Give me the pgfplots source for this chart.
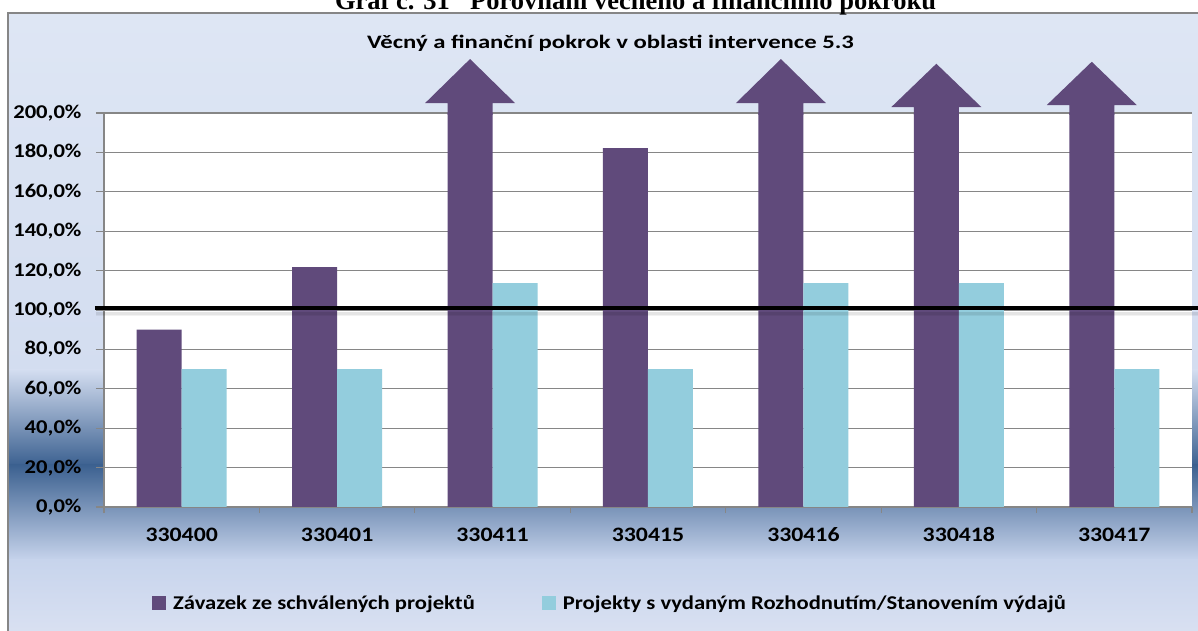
\documentclass[border=0pt]{standalone}
\usepackage{fontspec}
\setmainfont{Carlito}[FakeStretch=1.16]
\newfontfamily\titlefont{Carlito}[FakeStretch=1.3]
\newfontfamily\headfont{Liberation Serif}
\usepackage{pgfplots}
\pgfplotsset{compat=1.18}
\usetikzlibrary{backgrounds}
\definecolor{purp}{RGB}{96,74,123}
\definecolor{lblue}{RGB}{147,205,221}
\definecolor{bgtop}{RGB}{222,230,244}
\definecolor{bgmid}{RGB}{211,221,240}
\definecolor{bgdark}{RGB}{60,97,144}
\definecolor{bglow}{RGB}{199,212,236}
\definecolor{bgbot}{RGB}{218,225,242}
\definecolor{gridc}{RGB}{134,134,134}
\begin{document}
\begin{tikzpicture}[x=1pt,y=1pt]
\begin{axis}[
  scale only axis, width=1088pt, height=394pt,
  xmin=0, xmax=7, ymin=0, ymax=200,
  axis background/.style={fill=white},
  axis lines*=left,
  axis line style={gridc, line width=1.2pt},
  ymajorgrids,
  major grid style={gridc, line width=1.2pt},
  ytick={0,20,...,200},
  yticklabel={\pgfmathprintnumber[fixed,fixed zerofill,precision=1,use comma]{\tick}\%},
  /pgf/number format/assume math mode=true,
  tick align=outside,
  major tick length=8pt, minor tick length=6pt,
  tick style={gridc, line width=1.2pt},
  xtick={0.5,1.5,...,6.5},
  xticklabels={330400,330401,330411,330415,330416,330418,330417},
  major x tick style={draw=none},
  minor xtick={0,1,...,7},
  yticklabel style={font=\fontsize{19.5}{22}\selectfont\bfseries, xshift=-11pt},
  xticklabel style={font=\fontsize{20.5}{23}\selectfont\bfseries, text height=14pt, text depth=4pt, yshift=-9pt},
  ybar, bar width=45pt,
  clip=false,
  legend columns=2,
  legend style={at={(0,0)}, anchor=west, xshift=48pt, yshift=-96pt,
    draw=none, fill=none, inner sep=0pt,
    font=\fontsize{19.5}{22}\selectfont\bfseries,
    /tikz/every odd column/.append style={column sep=5pt},
    /tikz/every even column/.append style={column sep=65pt}},
  legend image code/.code={\fill[#1] (0pt,-7pt) rectangle (14pt,7pt);},
]
\addplot[fill=purp, draw=none, bar shift=-22.5pt] coordinates {
  (0.5,90) (1.5,121.8) (2.5,200) (3.5,182.2) (4.5,200) (5.5,200) (6.5,200)};
\addlegendentry{Závazek ze schválených projektů}
\addplot[fill=lblue, draw=none, bar shift=22.5pt] coordinates {
  (0.5,70) (1.5,70) (2.5,113.7) (3.5,70) (4.5,113.7) (5.5,113.7) (6.5,70)};
\addlegendentry{Projekty s vydaným Rozhodnutím/Stanovením výdajů}
% overflow arrows on bars above 200 %
\fill[purp] (axis cs:2.2104,199) -- (axis cs:2.2104,205) -- (axis cs:2.0656,205) -- (axis cs:2.3552,227.4) -- (axis cs:2.6448,205) -- (axis cs:2.5,205) -- (axis cs:2.5,199) -- cycle;
\fill[purp] (axis cs:4.2104,199) -- (axis cs:4.2104,205) -- (axis cs:4.0656,205) -- (axis cs:4.3552,227.4) -- (axis cs:4.6448,205) -- (axis cs:4.5,205) -- (axis cs:4.5,199) -- cycle;
\fill[purp] (axis cs:5.2104,199) -- (axis cs:5.2104,203) -- (axis cs:5.0656,203) -- (axis cs:5.3552,225) -- (axis cs:5.6448,203) -- (axis cs:5.5,203) -- (axis cs:5.5,199) -- cycle;
\fill[purp] (axis cs:6.2104,199) -- (axis cs:6.2104,204) -- (axis cs:6.0656,204) -- (axis cs:6.3552,226) -- (axis cs:6.6448,204) -- (axis cs:6.5,204) -- (axis cs:6.5,199) -- cycle;
% 100 % reference line with shadow
\fill[black, opacity=0.10] (axis cs:-0.05,99.2) rectangle (axis cs:7.1,97.7);
\fill[black, opacity=0.05] (axis cs:-0.05,97.7) rectangle (axis cs:7.1,96.7);
\draw[black, line width=4pt] (axis cs:-0.058,101) -- (axis cs:7.1,101);
\end{axis}
\begin{pgfonlayer}{background}
% background gradient of the chart area
\shade[top color=bgtop,bottom color=bgmid] (-96,494) rectangle (1106,136.5);
\shade[top color=bgmid,bottom color=bgdark] (-96,137) rectangle (1106,41.5);
\shade[top color=bgdark,bottom color=bglow] (-96,42) rectangle (1106,-53.5);
\shade[top color=bglow,bottom color=bgbot] (-96,-53) rectangle (1106,-129);
\draw[gridc, line width=1.2pt] (-96,-134) rectangle (1106,494);
\end{pgfonlayer}
% cut-off header above the chart
\node[anchor=base east, inner sep=0pt, font=\headfont\bfseries\fontsize{26.5}{30}\selectfont] at (346,497) {Graf č. 31};
\node[anchor=base west, inner sep=0pt, font=\headfont\bfseries\fontsize{26.5}{30}\selectfont] at (366,497) {Porovnání věcného a finančního pokroku};
% chart title
\node[anchor=base, inner sep=0pt, font=\titlefont\bfseries\fontsize{19}{22}\selectfont] at (506.5,458) {Věcný a finanční pokrok v oblasti intervence 5.3};
\pgfresetboundingbox
\path[use as bounding box] (-104,-124) rectangle (1094,507);
\end{tikzpicture}
\end{document}
